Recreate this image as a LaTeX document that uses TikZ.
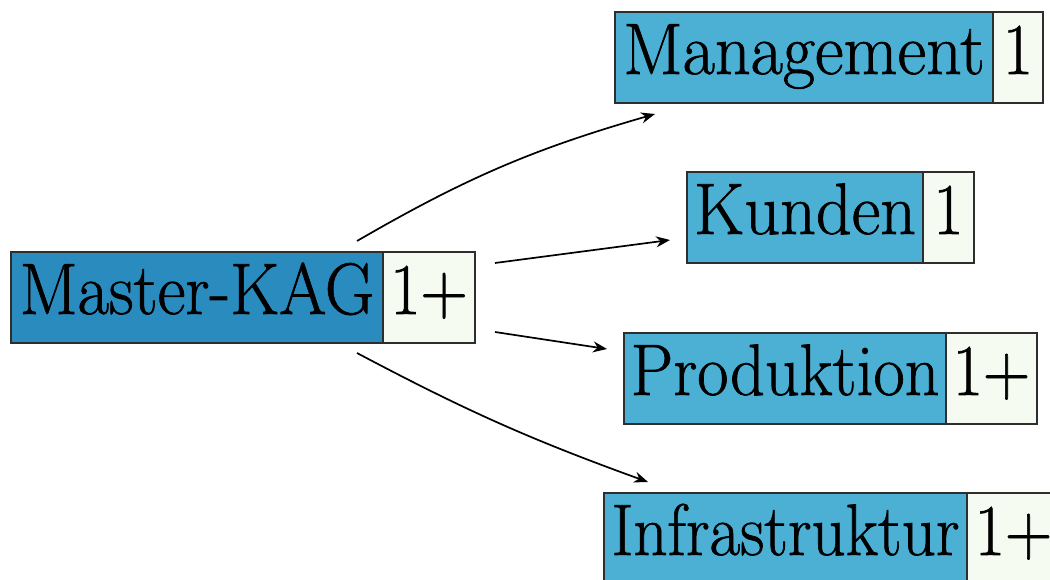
\documentclass[tikz,border=0pt]{standalone}
\usepackage{graphicx}
\usetikzlibrary{arrows.meta,calc}
\definecolor{masterblue}{HTML}{2A8BBF}
\definecolor{partblue}{HTML}{4BB0D4}
\definecolor{countbg}{HTML}{F6FBF1}
\definecolor{edgegray}{HTML}{2E2E2E}
\newcommand\sqz[2][0.96]{\special{pdf:literal direct 2 Tr 0.7 w}\scalebox{#1}[1]{#2}\special{pdf:literal direct 0 Tr}}
\tikzset{
  box/.style={draw=edgegray, line width=1.6pt, inner sep=0pt, outer sep=0pt, anchor=north west,
    text height=62pt, text depth=29pt, font=\fontsize{73}{80}\selectfont},
  namebox/.style={box, fill=partblue},
  masterbox/.style={box, fill=masterblue},
  countbox/.style={box, fill=countbg},
  cutbox/.style={text depth=25.5pt},
  arr/.style={draw=black, line width=1.7pt, -{Stealth[length=14pt,width=11pt]}}
}
\begin{document}
\begin{tikzpicture}[x=1pt,y=-1pt]
\useasboundingbox (0,0) rectangle (1050,580);
\clip (0,0) rectangle (1050,580);
% Master
\node[masterbox, minimum width=372pt] (master) at (11,252) {\sqz[0.935]{Master-KAG}};
\node[countbox, minimum width=92pt] (masterc) at (master.north east) {\sqz[0.9]{1+}};
% Management
\node[namebox, minimum width=378pt] (mgmt) at (615,12) {\sqz{Management}};
\node[countbox, minimum width=50pt] (mgmtc) at (mgmt.north east) {\sqz[0.9]{1}};
% Kunden
\node[namebox, minimum width=236pt] (kunden) at (687,172) {\sqz{Kunden}};
\node[countbox, minimum width=51pt] (kundenc) at (kunden.north east) {\sqz[0.9]{1}};
% Produktion
\node[namebox, minimum width=322pt] (prod) at (624,333) {\sqz[0.93]{Produktion}};
\node[countbox, minimum width=91pt] (prodc) at (prod.north east) {\sqz[0.9]{1+}};
% Infrastruktur
\node[namebox, cutbox, minimum width=363pt] (infra) at (604,493) {\sqz[0.915]{Infrastruktur}};
\node[countbox, cutbox, minimum width=93pt] (infrac) at (infra.north east) {\sqz[0.9]{1+}};
% connectors
\draw[arr] ($(master.north west)+(346,-11)$) to[bend left=7] ($(mgmt.south west)+(40,11)$);
\draw[arr] ($(masterc.north east)+(20,11)$) -- ($(kunden.south west)+(-17,-23)$);
\draw[arr] ($(masterc.south east)+(20,-11)$) -- ($(prod.north west)+(-17,16)$);
\draw[arr] ($(master.south west)+(346,10)$) to[bend right=4] ($(infra.north west)+(44,-11)$);
\end{tikzpicture}
\end{document}
